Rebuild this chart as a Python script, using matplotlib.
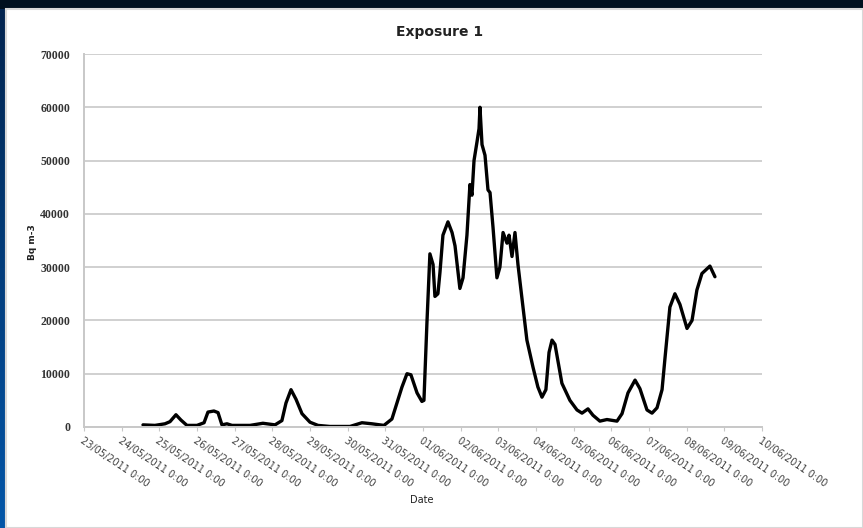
import numpy as np
import pandas as pd
import matplotlib.pyplot as plt
import matplotlib.dates as mdates
from matplotlib.colors import LinearSegmentedColormap

# hours after 23/05/2011 0:00 and radon concentration (Bq m-3)
hours = [37.6, 45.2, 51.6, 54.8, 58.6, 61.8, 65.6, 72.0, 76.5, 79.0, 82.8, 85.4,
         87.9, 91.1, 94.3, 105.8, 114.0, 121.7, 126.1, 128.7, 131.9, 135.1, 138.9,
         144.0, 149.1, 156.7, 169.5, 177.1, 183.5, 191.1, 196.2, 199.4, 202.6,
         205.8, 208.3, 212.2, 215.3, 216.6, 218.5, 220.4, 222.4, 223.6, 225.5,
         226.8, 228.7, 231.9, 234.5, 236.4, 239.5, 241.5, 244.0, 245.9, 247.2,
         248.5, 250.4, 251.7, 252.3, 253.6, 255.5, 257.4, 258.7, 260.6, 263.1,
         265.0, 267.0, 269.5, 270.8, 272.7, 274.6, 276.5, 279.1, 282.2, 286.1,
         289.2, 291.8, 294.3, 296.3, 298.2, 300.1, 304.5, 309.6, 314.1, 317.3,
         321.1, 324.3, 328.7, 333.2, 339.6, 342.8, 346.6, 351.1, 354.2, 358.7,
         361.9, 365.1, 368.3, 370.2, 373.3, 376.5, 379.7, 384.2, 387.4, 390.5,
         393.7, 398.8, 402.0]
bq = [400, 300, 600, 1000, 2300, 1300, 300, 300, 800, 2800, 3000, 2700,
      400, 600, 300, 300, 700, 400, 1200, 4500, 7000, 5200, 2500,
      900, 300, 100, 100, 800, 600, 300, 1500, 4500, 7500,
      10000, 9800, 6400, 4800, 5000, 19500, 32500, 30500, 24500, 25000,
      29000, 36000, 38500, 36500, 34000, 26000, 28000, 36000, 45500, 43500,
      50000, 53500, 56000, 60000, 53000, 51000, 44500, 44000, 37500, 28000,
      30000, 36500, 34500, 36000, 32000, 36500, 30500, 24000, 16300, 11200,
      7500, 5600, 7000, 14000, 16300, 15500, 8200, 5000, 3200, 2600,
      3400, 2200, 1100, 1400, 1100, 2500, 6400, 8800, 7200, 3200,
      2600, 3600, 7000, 13000, 22500, 25000, 23000, 18500, 20000, 25700,
      28800, 30200, 28200]

start = pd.Timestamp("2011-05-23")
end = pd.Timestamp("2011-06-10")
t = start + pd.to_timedelta(hours, unit="h")

fig = plt.figure(figsize=(8.63, 5.28), dpi=100)
fig.patch.set_facecolor("#00101f")

# slide background: blue strip on the left, white chart panel
bg = fig.add_axes([0, 0, 1, 1])
bg.set_xlim(0, 863)
bg.set_ylim(528, 0)
bg.axis("off")
grad = np.linspace(0, 1, 100).reshape(-1, 1)
cmap = LinearSegmentedColormap.from_list("b", ["#02244f", "#0456a8"])
bg.imshow(grad, extent=[0, 6, 528, 9], cmap=cmap, aspect="auto")
bg.add_patch(plt.Rectangle((6, 9), 857, 519, facecolor="white", edgecolor="#d8d8d8", linewidth=1.5))

ax = fig.add_axes([0.0973, 0.1913, 0.7857, 0.7064])
ax.plot(t, bq, color="black", linewidth=2.4, solid_joinstyle="round", solid_capstyle="round")

ax.set_xlim(start, end)
ax.set_ylim(0, 70000)
ax.set_yticks(range(0, 70001, 10000))
ax.yaxis.grid(True, color="#d0d0d0", linewidth=1.4)
ax.set_axisbelow(True)
for s in ["top", "right"]:
    ax.spines[s].set_visible(False)
ax.spines["left"].set_color("#c8c8c8")
ax.spines["bottom"].set_color("#c8c8c8")
ax.spines["left"].set_linewidth(1.4)
ax.spines["bottom"].set_linewidth(1.4)

ax.xaxis.set_major_locator(mdates.DayLocator())
ax.xaxis.set_major_formatter(mdates.DateFormatter("%d/%m/%Y 0:00"))
ax.tick_params(axis="x", length=3, color="#c8c8c8", labelsize=7, labelcolor="#404040", pad=3)
ax.tick_params(axis="y", length=0, labelsize=8.5, pad=10)
for lab in ax.get_xticklabels():
    lab.set_rotation(-34)
    lab.set_ha("left")
    lab.set_va("top")
    lab.set_rotation_mode("anchor")
for lab in ax.get_yticklabels():
    lab.set_family("Liberation Serif")
    lab.set_fontweight("bold")
    lab.set_color("#333333")

fig.text(440 / 863, 1 - 32 / 528, "Exposure 1", ha="center", va="center",
         fontsize=10, fontweight="bold", color="#222222")
fig.text(32 / 863, 1 - 242 / 528, "Bq m-3", ha="center", va="center", rotation=90,
         fontsize=6.5, fontweight="bold", color="#222222")
fig.text(422 / 863, 1 - 500 / 528, "Date", ha="center", va="center",
         fontsize=7, color="#222222")

plt.savefig("out.png", dpi=100, facecolor=fig.get_facecolor())
